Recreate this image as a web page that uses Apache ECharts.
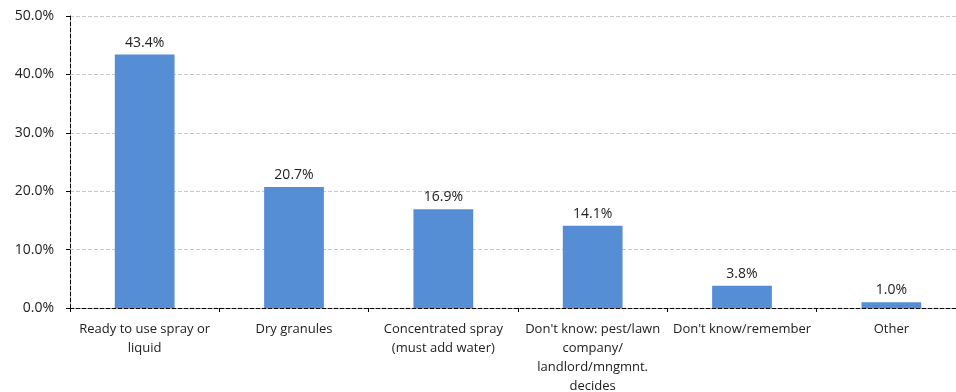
<!DOCTYPE html>
<html><head><meta charset="utf-8">
<script src="https://cdn.jsdelivr.net/npm/echarts@6/dist/echarts.min.js"></script>
<style>html,body{margin:0;padding:0;background:#fff}#c{width:956px;height:392px}</style>
</head><body><div id="c"></div>
<script>
const categories = [
  "Ready to use spray or\nliquid",
  "Dry granules",
  "Concentrated spray\n(must add water)",
  "Don't know: pest/lawn\ncompany/\nlandlord/mngmnt.\ndecides",
  "Don't know/remember",
  "Other"
];
const values = [43.4, 20.7, 16.9, 14.1, 3.8, 1.0];

const chart = echarts.init(document.getElementById('c'), null, {renderer: 'canvas'});
const font = "'Open Sans', 'DejaVu Sans', sans-serif";
chart.setOption({
  animation: false,
  grid: {left: 70, width: 896, top: 16, height: 292, containLabel: false, outerBoundsMode: 'none'},
  xAxis: {
    type: 'category',
    data: categories,
    axisLine: {show: true, lineStyle: {color: '#000', type: 'dashed', width: 1}},
    axisTick: {show: true, length: 4, lineStyle: {color: '#000'}},
    axisLabel: {color: '#222', fontSize: 13, fontFamily: font, lineHeight: 19, margin: 12, interval: 0}
  },
  yAxis: {
    type: 'value',
    min: 0, max: 50, interval: 10,
    axisLine: {show: true, lineStyle: {color: '#000', type: 'dashed', width: 1}},
    axisTick: {show: true, length: 4, lineStyle: {color: '#000'}},
    splitLine: {show: true, lineStyle: {color: '#c8c8c8', type: 'dashed'}},
    axisLabel: {color: '#222', fontSize: 14, fontFamily: font, margin: 16, formatter: v => v.toFixed(1) + '%'}
  },
  series: [{
    type: 'bar',
    data: values,
    barWidth: '40%',
    itemStyle: {color: '#558ed5'},
    label: {show: true, position: 'top', distance: 5, color: '#222', fontSize: 14, fontFamily: font,
      formatter: p => p.value.toFixed(1) + '%'}
  }]
});
</script></body></html>
